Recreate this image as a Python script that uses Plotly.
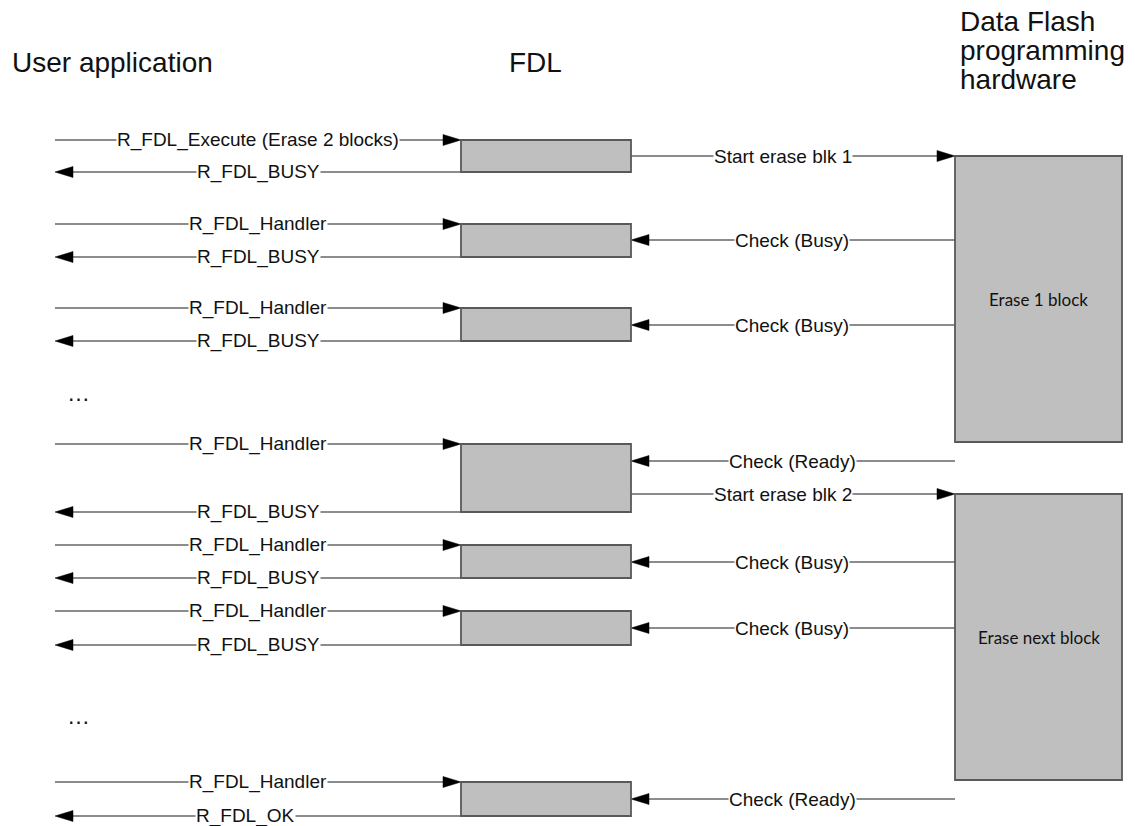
import plotly.graph_objects as go

# ---------------- data ----------------
participants = ["User application", "FDL", "Data Flash", "programming", "hardware"]

call_labels = ["R_FDL_Execute (Erase 2 blocks)", "R_FDL_Handler", "R_FDL_Handler",
               "R_FDL_Handler", "R_FDL_Handler", "R_FDL_Handler", "R_FDL_Handler"]
call_y = [140, 224, 308, 444, 545, 611, 782]

return_labels = ["R_FDL_BUSY", "R_FDL_BUSY", "R_FDL_BUSY", "R_FDL_BUSY",
                 "R_FDL_BUSY", "R_FDL_BUSY", "R_FDL_OK"]
return_y = [172, 257, 341, 512, 578, 645, 816]

hw_labels = ["Start erase blk 1", "Check (Busy)", "Check (Busy)", "Check (Ready)",
             "Start erase blk 2", "Check (Busy)", "Check (Busy)", "Check (Ready)"]
hw_y = [156, 240, 325, 461, 494, 562, 628, 799]
hw_to_hardware = [True, False, False, False, True, False, False, False]

hw_block_labels = ["Erase 1 block", "Erase next block"]
hw_block_top = [156, 494]
hw_block_bottom = [442, 780]

ellipsis_y = [397, 720]

# ---------------- layout constants ----------------
W, H = 1135, 826
USER_X = 55
FDL_L, FDL_R = 461, 631
HW_L, HW_R = 955, 1122
CALL_LABEL_X = 258
LINE_COLOR = "#1a1a1a"
BOX_FILL = "#bfbfbf"
BOX_LINE = "#595959"
FONT = "Liberation Sans, Arial, sans-serif"
MSG_SIZE = 19
AH_LEN, AH_HALF = 18, 5.5

fig = go.Figure()
shapes = []
annotations = []


def hline(x0, x1, y):
    shapes.append(dict(type="line", xref="x", yref="y", x0=x0, x1=x1, y0=y, y1=y,
                       line=dict(color=LINE_COLOR, width=1.2), layer="below"))


def arrow(x_from, x_to, y, label, label_x):
    d = 1 if x_to > x_from else -1
    base = x_to - d * AH_LEN
    hline(x_from, base, y)
    path = f"M {x_to},{y} L {base},{y - AH_HALF} L {base},{y + AH_HALF} Z"
    shapes.append(dict(type="path", xref="x", yref="y", path=path,
                       fillcolor="black", line=dict(color="black", width=0.5), layer="below"))
    annotations.append(dict(x=label_x, y=y, xref="x", yref="y", text=label, showarrow=False,
                            font=dict(family=FONT, size=MSG_SIZE, color="#111"),
                            bgcolor="white", borderpad=0, xanchor="center", yanchor="middle"))


def rect(x0, x1, y0, y1):
    shapes.append(dict(type="rect", xref="x", yref="y", x0=x0, x1=x1, y0=y0, y1=y1,
                       fillcolor=BOX_FILL, line=dict(color=BOX_LINE, width=1.8), layer="above"))


# FDL activation boxes
for cy, ry in zip(call_y, return_y):
    rect(FDL_L, FDL_R, cy, ry)

# hardware blocks
for lab, t, b in zip(hw_block_labels, hw_block_top, hw_block_bottom):
    rect(HW_L, HW_R, t, b)
    annotations.append(dict(x=(HW_L + HW_R) / 2, y=(t + b) / 2, xref="x", yref="y", text=lab,
                            showarrow=False, font=dict(family="Lato, Open Sans, sans-serif", size=17, color="#111")))

# calls and returns
for lab, y in zip(call_labels, call_y):
    arrow(USER_X, FDL_L, y, lab, CALL_LABEL_X)
for lab, y in zip(return_labels, return_y):
    arrow(FDL_L, USER_X, y, lab, CALL_LABEL_X - (13 if lab == "R_FDL_OK" else 0))

# FDL <-> hardware
for lab, y, to_hw in zip(hw_labels, hw_y, hw_to_hardware):
    if to_hw:
        arrow(FDL_R, HW_L, y, lab, 783)
    else:
        arrow(HW_L, FDL_R, y, lab, 792)

# ellipses
for y in ellipsis_y:
    annotations.append(dict(x=78, y=y - 4, xref="x", yref="y", text="…", showarrow=False,
                            font=dict(family=FONT, size=23, color="#111")))

# participant headers
HDR = dict(family=FONT, size=28, color="#111")
annotations.append(dict(x=10, y=62, xref="x", yref="y", text=participants[0], showarrow=False,
                        xanchor="left", yanchor="middle", font=HDR))
annotations.append(dict(x=535, y=62, xref="x", yref="y", text=participants[1], showarrow=False,
                        xanchor="center", yanchor="middle", font=HDR))
for txt, yy in zip(participants[2:], [21, 50, 79]):
    annotations.append(dict(x=958, y=yy, xref="x", yref="y", text=txt, showarrow=False,
                            xanchor="left", yanchor="middle", font=HDR))

fig.update_layout(
    width=W, height=H, margin=dict(l=0, r=0, t=0, b=0),
    paper_bgcolor="white", plot_bgcolor="white",
    xaxis=dict(range=[0, W], visible=False, fixedrange=True),
    yaxis=dict(range=[H, 0], visible=False, fixedrange=True),
    shapes=shapes, annotations=annotations, showlegend=False,
)
fig.write_html("out.html", config={"displayModeBar": False},
               post_script="document.body.style.margin='0';document.body.style.overflow='hidden';")
